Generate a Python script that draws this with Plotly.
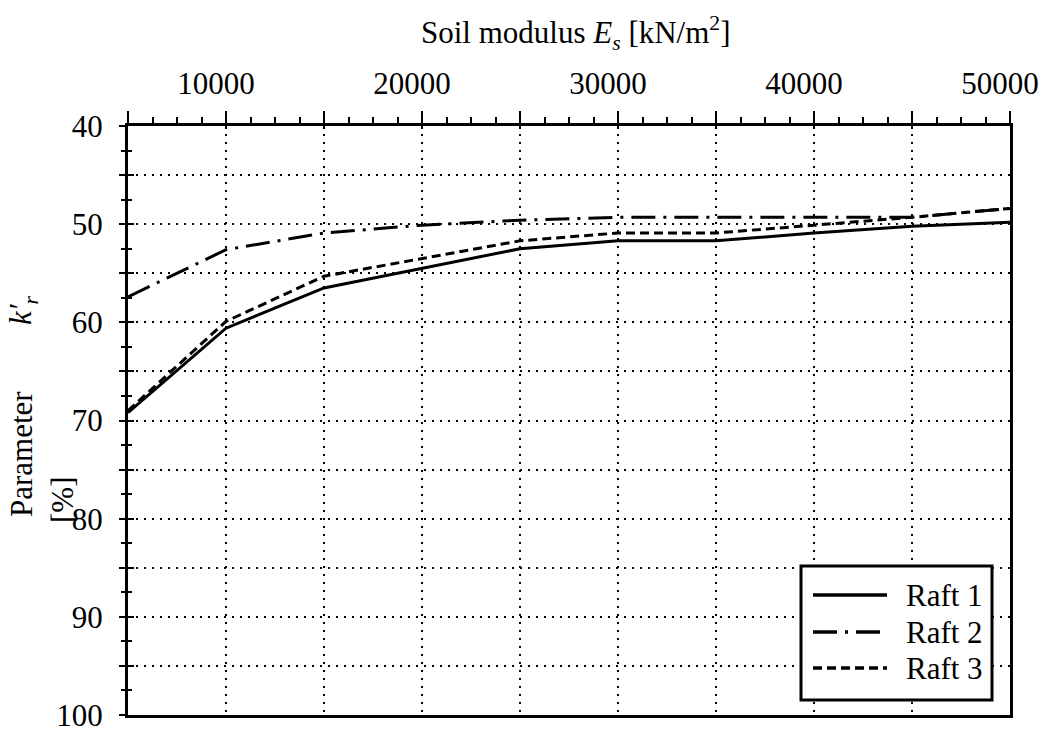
import plotly.graph_objects as go

# ---- data ----
soil_modulus = [5000, 10000, 15000, 20000, 25000, 30000, 35000, 40000, 45000, 50000]
raft1 = [69.2, 60.6, 56.5, 54.5, 52.5, 51.7, 51.7, 50.9, 50.2, 49.8]
raft2 = [57.4, 52.6, 50.9, 50.1, 49.6, 49.3, 49.3, 49.3, 49.3, 48.4]
raft3 = [69.0, 59.9, 55.3, 53.5, 51.7, 50.9, 50.9, 50.1, 49.3, 48.4]
series_names = ["Raft 1", "Raft 2", "Raft 3"]
x_tickvals = [5000, 10000, 15000, 20000, 25000, 30000, 35000, 40000, 45000, 50000]
x_ticktext = ["", "10000", "", "20000", "", "30000", "", "40000", "", "50000"]
y_tickvals = [40, 45, 50, 55, 60, 65, 70, 75, 80, 85, 90, 95, 100]
y_ticktext = ["40", "", "50", "", "60", "", "70", "", "80", "", "90", "", "100"]

W, H = 1045, 729
L, R, T, B = 128, 1010, 126, 715
FONT = "Liberation Serif, Times New Roman, serif"
FS = 31

def px2x(px):
    return (px - L) / (R - L)

def px2y(py):
    return (B - py) / (B - T)

dashes = ["solid", "24px,8px,3px,8px", "9px,5px"]
ys = [raft1, raft2, raft3]

fig = go.Figure()
for name, y, d in zip(series_names, ys, dashes):
    fig.add_trace(go.Scatter(x=soil_modulus, y=y, mode="lines", name=name,
                             line=dict(color="black", width=3, dash=d),
                             showlegend=False))
# empty trace to activate overlay axes (inside tick halves)
fig.add_trace(go.Scatter(x=[], y=[], xaxis="x2", yaxis="y2", showlegend=False))

axis_common = dict(color="black", automargin=False,
                   tickfont=dict(family=FONT, size=FS, color="black"))

fig.update_layout(
    width=W, height=H,
    margin=dict(l=L, r=W - R, t=T, b=H - B, autoexpand=False),
    paper_bgcolor="white", plot_bgcolor="white",
    font=dict(family=FONT, size=FS, color="black"),
    xaxis=dict(
        range=[5000, 50000], side="top",
        tickmode="array", tickvals=x_tickvals, ticktext=x_ticktext,
        ticks="outside", ticklen=12, tickwidth=2, tickcolor="black",
        minor=dict(tickmode="linear", tick0=5000, dtick=1250, ticks="outside",
                   ticklen=6, tickwidth=2, tickcolor="black", showgrid=False),
        showgrid=True, gridcolor="black", gridwidth=1.5, griddash="2px,6px",
        showline=True, linecolor="black", linewidth=3, mirror=True,
        zeroline=False, ticklabelshift=-10, ticklabelstandoff=5,
        ticklabeloverflow="allow",
        **axis_common),
    yaxis=dict(
        range=[100, 40],
        tickmode="array", tickvals=y_tickvals, ticktext=y_ticktext,
        ticks="outside", ticklen=6, tickwidth=2, tickcolor="black",
        minor=dict(tickmode="linear", tick0=40, dtick=2.5, ticks="outside",
                   ticklen=4, tickwidth=2, tickcolor="black", showgrid=False),
        showgrid=True, gridcolor="black", gridwidth=1.5, griddash="2px,6px",
        showline=True, linecolor="black", linewidth=3, mirror=True,
        zeroline=False, ticklabelstandoff=10, ticklabeloverflow="allow",
        **axis_common),
    xaxis2=dict(
        range=[5000, 50000], overlaying="x", side="top", automargin=False,
        tickmode="array", tickvals=x_tickvals, ticks="inside", ticklen=3,
        tickwidth=2, tickcolor="black", showticklabels=False,
        showgrid=False, showline=False, zeroline=False),
    yaxis2=dict(
        range=[100, 40], overlaying="y", side="left", automargin=False,
        tickmode="array", tickvals=y_tickvals, ticks="inside", ticklen=6,
        tickwidth=2, tickcolor="black", showticklabels=False,
        minor=dict(tickmode="linear", tick0=40, dtick=2.5, ticks="inside",
                   ticklen=4, tickwidth=2, tickcolor="black", showgrid=False),
        showgrid=False, showline=False, zeroline=False),
)

annotations = [
    dict(x=px2x(576), y=px2y(33), xref="paper", yref="paper",
         text="Soil modulus <i>E<sub>s</sub></i> [kN/m<sup>2</sup>]",
         showarrow=False, xanchor="center", yanchor="middle",
         font=dict(family=FONT, size=FS, color="black")),
    dict(x=px2x(22), y=px2y(454), xref="paper", yref="paper",
         text="Parameter", textangle=-90, showarrow=False,
         xanchor="center", yanchor="middle",
         font=dict(family=FONT, size=FS, color="black")),
    dict(x=px2x(23), y=px2y(310), xref="paper", yref="paper",
         text="<i>k′<sub>r</sub></i>", textangle=-90, showarrow=False,
         xanchor="center", yanchor="middle",
         font=dict(family=FONT, size=FS, color="black")),
    dict(x=px2x(62), y=px2y(500), xref="paper", yref="paper",
         text="[%]", textangle=-90, showarrow=False,
         xanchor="center", yanchor="middle",
         font=dict(family=FONT, size=FS, color="black")),
]

# custom legend (box + samples + labels)
shapes = [dict(type="rect", xref="paper", yref="paper",
               x0=px2x(801), x1=px2x(992), y0=px2y(700), y1=px2y(566),
               line=dict(color="black", width=3), fillcolor="white", layer="above")]
legend_rows = [595, 632, 668]
for name, d, ry in zip(series_names, dashes, legend_rows):
    shapes.append(dict(type="line", xref="paper", yref="paper",
                       x0=px2x(813), x1=px2x(887), y0=px2y(ry), y1=px2y(ry),
                       line=dict(color="black", width=3.5, dash=d), layer="above"))
    annotations.append(dict(x=px2x(904), y=px2y(ry), xref="paper", yref="paper",
                            text=name, showarrow=False, xanchor="left", yanchor="middle",
                            font=dict(family=FONT, size=FS, color="black")))

fig.update_layout(annotations=annotations, shapes=shapes)

fig.write_html("out.html")
